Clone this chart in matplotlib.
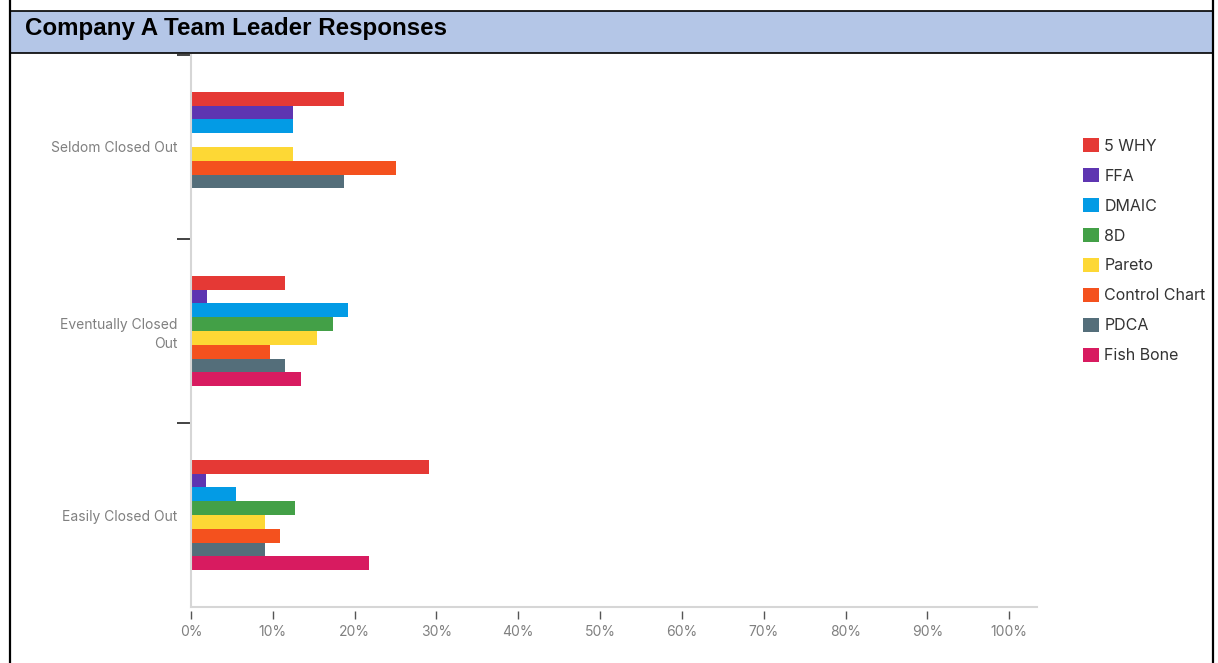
import numpy as np
import matplotlib.pyplot as plt
from matplotlib.patches import Rectangle
from matplotlib.lines import Line2D

categories = ['Seldom Closed Out', 'Eventually Closed\nOut', 'Easily Closed Out']
methods = ['5 WHY', 'FFA', 'DMAIC', '8D', 'Pareto', 'Control Chart', 'PDCA',
           'Fish Bone']
colors = ['#e53935', '#5e35b1', '#039be5', '#43a047', '#fdd835', '#f4511e',
          '#546e7a', '#d81b60']

# percent of responses, one list per category (order follows methods)
seldom = [18.75, 12.5, 12.5, 0.0, 12.5, 25.0, 18.75, 0.0]
eventually = [11.5, 1.9, 19.2, 17.3, 15.4, 9.6, 11.5, 13.5]
easily = [29.1, 1.8, 5.45, 12.7, 9.1, 10.9, 9.1, 21.8]
values = np.array([seldom, eventually, easily])
xticks = np.arange(0, 101, 10)

W, H = 1218, 663
fig = plt.figure(figsize=(W / 100, H / 100), dpi=100)
plt.rcParams['font.family'] = ['Inter', 'DejaVu Sans']

# frame and header band
fig.add_artist(Line2D([10 / W, 10 / W], [0, 1], color='black', lw=1.6))
fig.add_artist(Line2D([1212.5 / W, 1212.5 / W], [0, 1], color='black', lw=1.6))
fig.add_artist(Rectangle((10 / W, 1 - 53 / H), 1202.5 / W, 42 / H,
                         facecolor='#b4c6e7', edgecolor='black', lw=1.2))
fig.text(25 / W, 1 - 35 / H, 'Company A Team Leader Responses',
         fontsize=17.4, fontweight='bold', family='Liberation Sans',
         va='baseline', ha='left')

ax = fig.add_axes([191 / W, 1 - 607 / H, (1037 - 191) / W, (607 - 55) / H])
n = len(methods)
bar_h = 0.6 / n
ypos = np.arange(len(categories))
for i, (m, c) in enumerate(zip(methods, colors)):
    ax.barh(ypos - 0.3 + bar_h * (i + 0.5), values[:, i], height=bar_h,
            color=c, label=m)

ax.set_ylim(2.5, -0.5)
ax.set_xlim(0, 103.4)
ax.set_yticks(ypos)
ax.set_yticklabels(categories, fontsize=10, linespacing=1.45)
ax.set_yticks([-0.5, 0.5, 1.5], minor=True)
ax.tick_params(axis='y', which='major', length=0, pad=10, labelcolor='#808080')
ax.tick_params(axis='y', which='minor', length=10, width=1.2, color='#222222')
ax.set_xticks(xticks)
ax.set_xticklabels([f'{t}%' for t in xticks], fontsize=10)
ax.tick_params(axis='x', length=6, width=1, color='#555555', pad=4,
               labelcolor='#808080')

for s in ['top', 'right']:
    ax.spines[s].set_visible(False)
ax.spines['left'].set_color('#d6d6d6')
ax.spines['left'].set_linewidth(1.5)
ax.spines['bottom'].set_position(('outward', 3))
ax.spines['bottom'].set_visible(False)
ax.add_line(Line2D([0, 1], [0, 0], transform=ax.transAxes, color='#d6d6d6',
                   lw=1.5, clip_on=False))

leg = ax.legend(loc='upper left', bbox_to_anchor=(1077 / W, 1 - 132 / H),
                bbox_transform=fig.transFigure, frameon=False, fontsize=11.5,
                handlelength=0.95, handleheight=0.95, handletextpad=0.35,
                labelspacing=0.91, borderaxespad=0)
for t in leg.get_texts():
    t.set_color('#333333')

fig.savefig('out.png', dpi=100)
